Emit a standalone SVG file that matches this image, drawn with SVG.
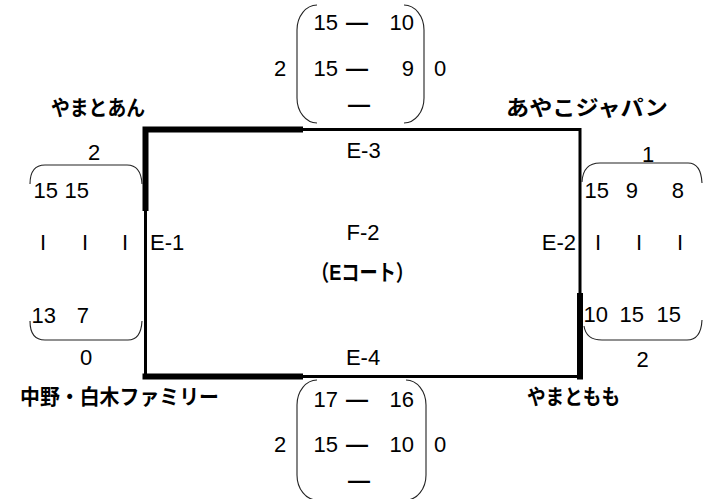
<svg xmlns="http://www.w3.org/2000/svg" width="716" height="499" viewBox="0 0 716 499">
<style>
text{font-family:"Liberation Sans","Noto Sans CJK JP",sans-serif;font-size:22px;fill:#000}
.jp{font-family:"Noto Sans CJK JP",sans-serif;font-size:21px;font-weight:bold}
.m{text-anchor:middle}
.e{text-anchor:end}
.d{font-weight:bold}
.thin{fill:none;stroke:#000;stroke-width:3}
.thick{fill:none;stroke:#000;stroke-width:6}
.br{fill:none;stroke:#222;stroke-width:1.1}
</style>
<rect width="716" height="499" fill="#fff"/>
<g id="court">
<rect class="thin" x="145.5" y="129.5" width="434.5" height="247"/>
<path class="thick" d="M145.5,126.5V211M142.5,129.5H303M142.5,376.5H303M580,293V379.5"/>
<text class="m" x="363.5" y="158">E-3</text>
<text class="m" x="363" y="365">E-4</text>
<text x="150" y="250">E-1</text>
<text class="e" x="576" y="250">E-2</text>
<text class="m" x="363" y="240">F-2</text>
<text class="m" x="362.5" y="280" textLength="103" lengthAdjust="spacingAndGlyphs" font-weight="bold">（Eコート）</text>
</g>
<g id="team-yamatoan"><text class="jp" x="51" y="115" textLength="94" lengthAdjust="spacingAndGlyphs">やまとあん</text></g>
<g id="team-ayako"><text class="jp" x="506" y="115" textLength="162" lengthAdjust="spacingAndGlyphs">あやこジャパン</text></g>
<g id="team-nakano"><text class="jp" x="20" y="404" textLength="199" lengthAdjust="spacingAndGlyphs">中野・白木ファミリー</text></g>
<g id="team-yamatomomo"><text class="jp" x="527" y="404" textLength="93" lengthAdjust="spacingAndGlyphs">やまともも</text></g>
<g id="score-top">
<path class="br" d="M317,5A20,25 0 0 0 297,30V98A20,25 0 0 0 317,123M404,5A20,25 0 0 1 424,30V98A20,25 0 0 1 404,123"/>
<text class="e" x="338" y="30">15</text><text class="m d" x="357" y="30">—</text><text class="e" x="414" y="30">10</text>
<text class="m" x="280" y="76">2</text><text class="e" x="338" y="76">15</text><text class="m d" x="357" y="76">—</text><text class="e" x="414" y="76">9</text><text class="m" x="440" y="76">0</text>
<text class="m d" x="359" y="112">—</text>
</g>
<g id="score-bottom">
<path class="br" d="M317,380A20,25 0 0 0 297,405V475A20,25 0 0 0 317,500M406,380A20,25 0 0 1 426,405V475A20,25 0 0 1 406,500"/>
<text class="e" x="338" y="407">17</text><text class="m d" x="357" y="407">—</text><text class="e" x="414" y="407">16</text>
<text class="m" x="280" y="452">2</text><text class="e" x="338" y="452">15</text><text class="m d" x="357" y="452">—</text><text class="e" x="414" y="452">10</text><text class="m" x="440" y="452">0</text>
<text class="m d" x="359" y="488">—</text>
</g>
<g id="score-left">
<path class="br" d="M30,184Q30,165 45,165H127Q141,165 142,184M30,321Q30,340 45,340H128Q141,340 142,321"/>
<text class="m" x="94" y="160">2</text>
<text class="e" x="58" y="198">15</text><text class="e" x="89" y="198">15</text>
<text class="m" x="43" y="250">I</text><text class="m" x="85" y="250">I</text><text class="m" x="125" y="250">I</text>
<text class="e" x="56" y="323">13</text><text class="e" x="89" y="323">7</text>
<text class="m" x="86" y="365">0</text>
</g>
<g id="score-right">
<path class="br" d="M582,182Q583,163 600,163H688Q701,163 702,183M584,326Q586,340 602,340H687Q701,340 702,320"/>
<text class="m" x="648" y="162">1</text>
<text class="e" x="609" y="198">15</text><text class="e" x="638" y="198">9</text><text class="e" x="684" y="198">8</text>
<text class="m" x="598" y="250">I</text><text class="m" x="639" y="250">I</text><text class="m" x="680" y="250">I</text>
<text class="e" x="608" y="322">10</text><text class="e" x="644" y="322">15</text><text class="e" x="681" y="322">15</text>
<text class="m" x="642.5" y="367">2</text>
</g>
<g id="connectors"></g>
</svg>
